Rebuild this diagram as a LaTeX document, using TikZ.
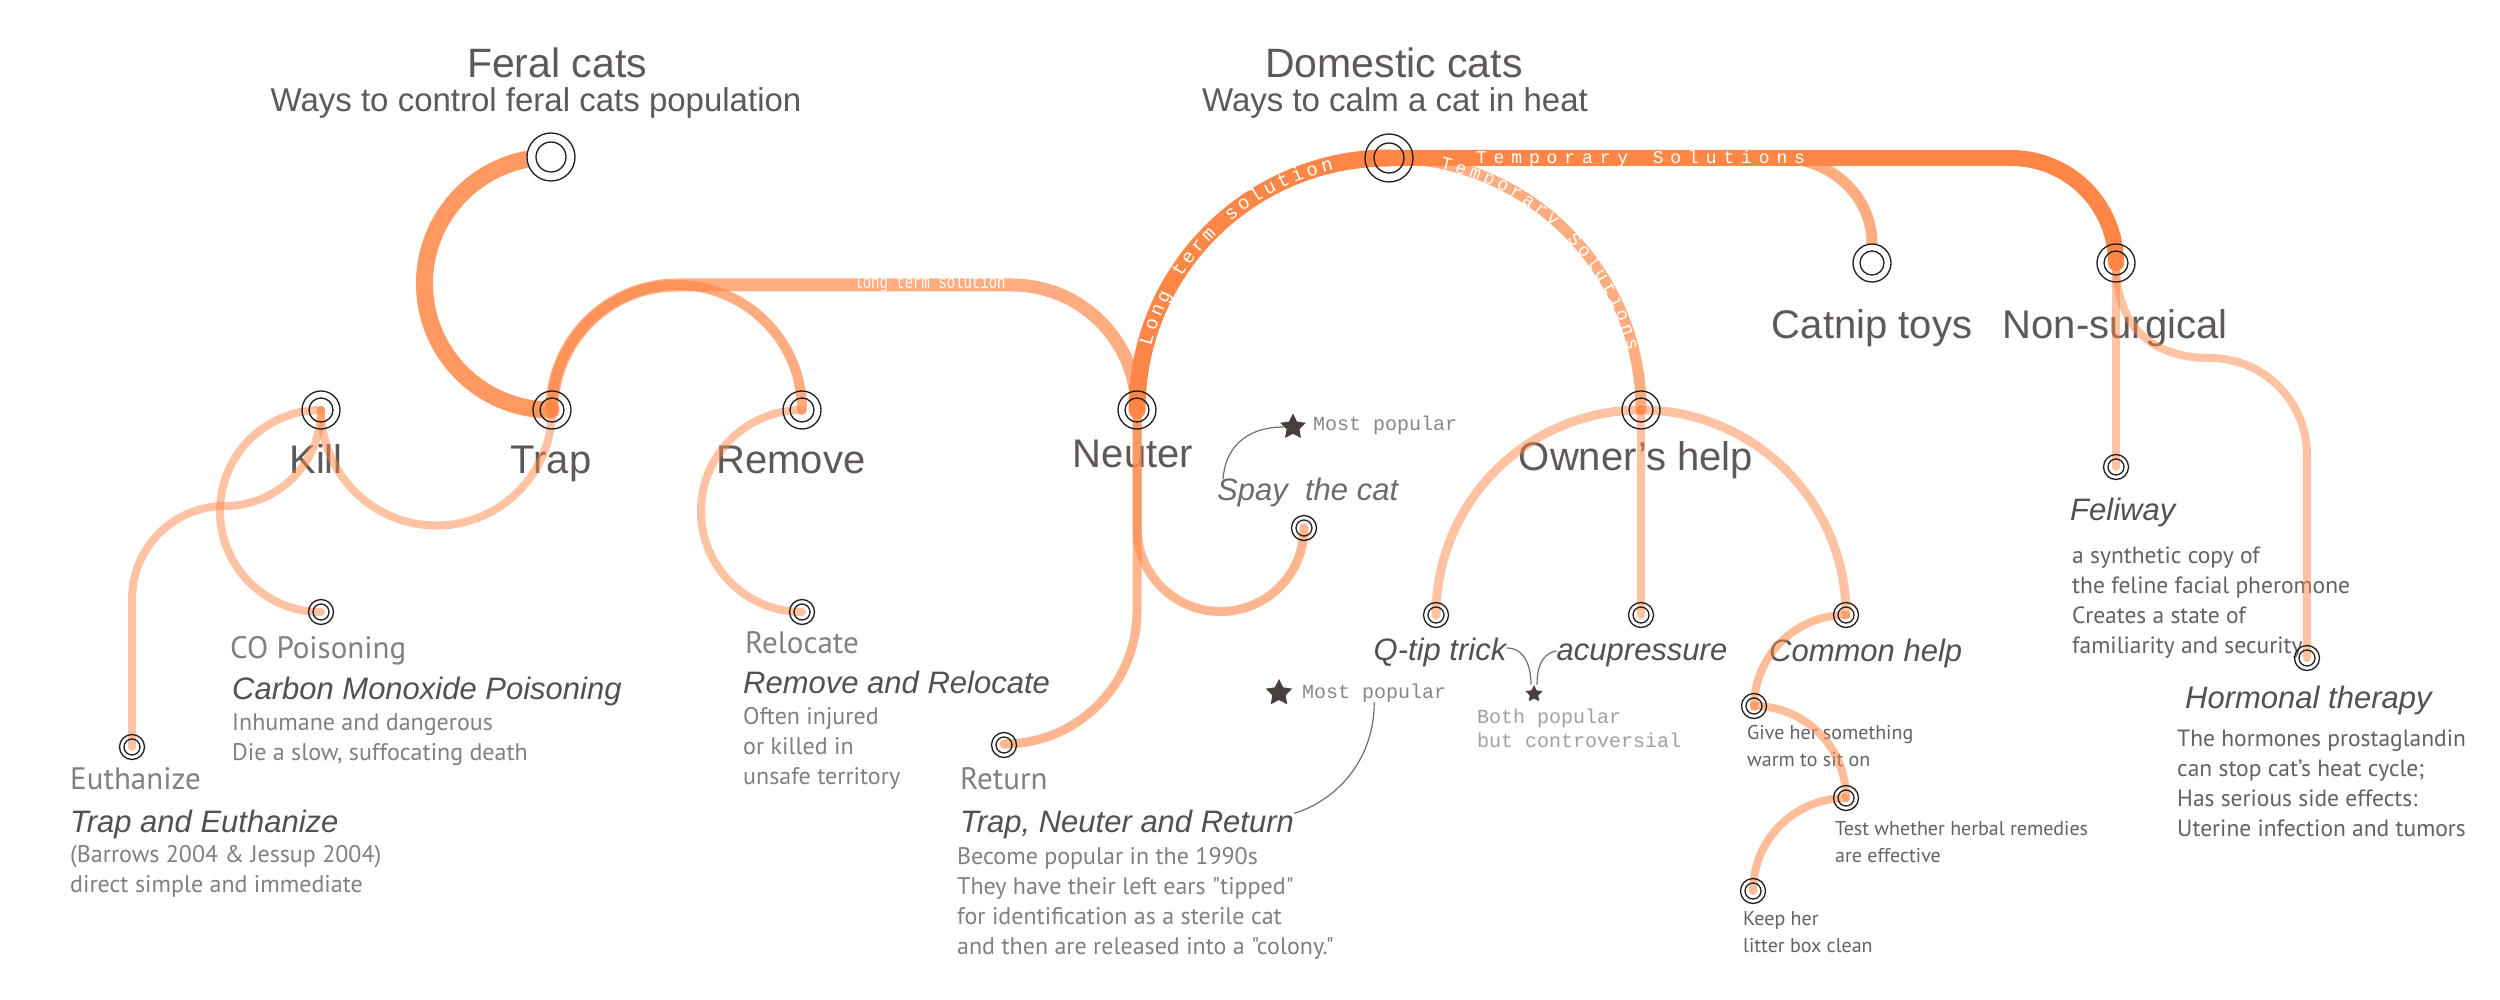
\documentclass[tikz,border=0pt]{standalone}
\usepackage{fontspec}
\setmainfont{Liberation Sans}
\newfontfamily\myr{PT Sans}
\newfontfamily\mono{Liberation Mono}
\usetikzlibrary{decorations.text,shapes.geometric}
\definecolor{org}{RGB}{255,134,70}
\definecolor{ttl}{RGB}{94,88,86}
\definecolor{itl}{RGB}{82,80,80}
\definecolor{spc}{RGB}{108,108,108}
\definecolor{dsc}{RGB}{128,128,128}
\definecolor{dsc2}{RGB}{98,98,98}
\definecolor{mgr}{RGB}{135,135,135}
\definecolor{mgr2}{RGB}{160,160,160}
\definecolor{stc}{RGB}{72,62,62}
\definecolor{ringc}{RGB}{30,30,30}
\definecolor{gln}{RGB}{110,110,110}
\newcommand{\fs}[2]{\fontsize{#1}{#2}\selectfont}
\tikzset{
  stnbig/.style={circle,inner sep=0pt,minimum size=48pt},
  stnmid/.style={circle,inner sep=0pt,minimum size=38pt},
  stnsml/.style={circle,inner sep=0pt,minimum size=26pt},
  ttlT/.style={text=ttl,font=\fs{41}{41},inner sep=0pt,anchor=base},
  subT/.style={text=ttl,font=\fs{33}{33},inner sep=0pt,anchor=base},
  stnT/.style={text=ttl,font=\fs{40}{40},inner sep=0pt,anchor=base},
  itT/.style={text=itl,font=\itshape\fs{31}{31},inner sep=0pt,anchor=base west},
  medT/.style={text=dsc,font=\myr\fs{31}{31},inner sep=0pt,anchor=base west},
  dscT/.style={text=dsc,font=\myr\fs{24}{30},inner sep=0pt,anchor=base west,align=left},
  dsctwo/.style={text=dsc2,font=\myr\fs{23.5}{30},inner sep=0pt,anchor=base west,align=left},
  smlT/.style={text=dsc2,font=\myr\fs{20}{27},inner sep=0pt,anchor=base west,align=left},
  monoT/.style={text=mgr,font=\mono\fs{20}{24},inner sep=0pt,anchor=base west,align=left},
  strongln/.style={draw=org,line width=17pt,line cap=round},
  medln/.style={draw=org,opacity=0.68,line cap=round},
  lightln/.style={draw=org,opacity=0.5,line width=8pt,line cap=round},
  ring/.style={draw=ringc,line width=1.3pt},
  starn/.style={star,star points=5,star point ratio=2.0,fill=stc,inner sep=0pt,minimum size=#1},
  gline/.style={draw=gln,line width=1.2pt},
  lbl/.style={decoration={text along path,text align=fit to path,text color=white,raise=-5.5pt,text={#1}},decorate},
}
\begin{document}
\begin{tikzpicture}[x=1pt,y=1pt]
\fill[white] (0,0) rectangle (2500,-1000);
\useasboundingbox (0,0) rectangle (2500,-1000);

% stations
\node[stnbig] (feral) at (551,-157) {};
\node[stnbig] (dom) at (1389,-158) {};
\node[stnmid] (kill) at (321,-410) {};
\node[stnmid] (trap) at (552,-410) {};
\node[stnmid] (remove) at (802,-410) {};
\node[stnmid] (neuter) at (1137,-410) {};
\node[stnmid] (owner) at (1641,-410) {};
\node[stnmid] (catnip) at (1872,-263) {};
\node[stnmid] (nonsurg) at (2116,-263) {};
\node[stnsml] (co) at (321,-612) {};
\node[stnsml] (reloc) at (802,-612) {};
\node[stnsml] (euth) at (132,-747) {};
\node[stnsml] (spay) at (1304,-528) {};
\node[stnsml] (ret) at (1004,-745) {};
\node[stnsml] (qtip) at (1436,-615) {};
\node[stnsml] (acu) at (1641,-615) {};
\node[stnsml] (common) at (1846,-615) {};
\node[stnsml] (give) at (1754,-706) {};
\node[stnsml] (test) at (1846,-798) {};
\node[stnsml] (keep) at (1753,-891) {};
\node[stnsml] (feli) at (2116,-467) {};
\node[stnsml] (horm) at (2307,-658) {};
\coordinate (cbr) at (1780,-158);

% titles
\node[ttlT] (feralT) at (557,-78) {Feral cats};
\node[subT] (feralS) at (536,-112) {Ways to control feral cats population};
\node[ttlT] (domT) at (1394,-78) {Domestic cats};
\node[subT] (domS) at (1395,-112) {Ways to calm a cat in heat};

% station labels
\node[stnT] (killT) at (316,-473) {Kill};
\node[stnT] (trapT) at (551,-473) {Trap};
\node[stnT] (removeT) at (791,-473) {Remove};
\node[stnT] (neuterT) at (1133,-467) {Neuter};
\node[stnT] (ownerT) at (1636,-470) {Owner’s help};
\node[stnT] (catnipT) at (1872,-338) {Catnip toys};
\node[stnT] (nonsurgT) at (2115,-338) {Non-surgical};

% italic labels
\node[itT,text=spc] (spayT) at (1217,-500) {Spay~ the cat};
\node[itT,anchor=base] (qtipT) at (1440,-660) {Q-tip trick};
\node[itT,anchor=base] (acuT) at (1642,-660) {acupressure};
\node[itT] (commonT) at (1769,-661) {Common help};
\node[itT] (feliT) at (2070,-520) {Feliway};
\node[itT] (hormT) at (2185,-708) {Hormonal therapy};
\node[itT] (coT) at (232,-699) {Carbon Monoxide Poisoning};
\node[itT] (relocT) at (743,-693) {Remove and Relocate};
\node[itT] (euthT) at (70,-832) {Trap and Euthanize};
\node[itT] (retT) at (960,-832) {Trap, Neuter and Return};

% medium labels
\node[medT] (coM) at (230,-658) {CO Poisoning};
\node[medT] (relocM) at (745,-653) {Relocate};
\node[medT] (euthM) at (70,-789) {Euthanize};
\node[medT] (retM) at (960,-789) {Return};

% descriptions (anchor = baseline of last line)
\node[dscT] (coD) at (232,-760) {Inhumane and dangerous\\Die a slow, suffocating death};
\node[dscT] (euthD) at (70,-892) {(Barrows 2004 \& Jessup 2004)\\direct simple and immediate};
\node[dscT] (relocD) at (743,-784) {Often injured\\or killed in\\unsafe territory};
\node[dscT] (retD) at (957,-954) {Become popular in the 1990s\\They have their left ears "tipped"\\for identification as a sterile cat\\and then are released into a "colony."};
\node[dsctwo] (feliD) at (2072,-653) {a synthetic copy of\\the feline facial pheromone\\Creates a state of\\familiarity and security};
\node[dsctwo] (hormD) at (2177,-836) {The hormones prostaglandin\\can stop cat’s heat cycle;\\Has serious side effects:\\Uterine infection and tumors};
\node[smlT] (giveD) at (1747,-766) {Give her something\\warm to sit on};
\node[smlT] (testD) at (1835,-862) {Test whether herbal remedies\\are effective};
\node[smlT] (keepD) at (1743,-952) {Keep her\\litter box clean};

% mono notes
\node[monoT] (mp1) at (1313,-430) {Most popular};
\node[monoT] (mp2) at (1302,-698) {Most popular};
\node[monoT,text=mgr2] (both) at (1477,-747) {Both popular\\but controversial};

% feral lines
\draw[strongln,opacity=.85] (feral.center) arc[start angle=90,end angle=270,radius=126.5];
\draw[medln,line width=10pt] (trap.center) arc[start angle=180,end angle=0,radius=125];
\draw[medln,line width=13pt] (trap.center) arc[start angle=180,end angle=90,radius=125] -- ++(335,0) arc[start angle=90,end angle=0,radius=125];
\draw[lightln] (trap.center) arc[start angle=0,end angle=-180,radius=115.5];
\draw[lightln] (kill.center) arc[start angle=90,end angle=270,radius=101];
\draw[lightln] (kill.center) arc[start angle=0,end angle=-90,radius=96] arc[start angle=90,end angle=180,radius=93] -- (euth.center);
\draw[lightln] (remove.center) arc[start angle=90,end angle=270,radius=101];

% domestic lines
\draw[medln,line width=11pt] (dom.center) arc[start angle=90,end angle=0,radius=252];
\draw[strongln] (dom.center) arc[start angle=90,end angle=180,radius=252];
\draw[medln,line width=11pt] (cbr) .. controls (1831,-158) and (1872,-196) .. (catnip.north);
\draw[strongln,line width=16pt] (dom.center) -- (2011,-158) arc[start angle=90,end angle=0,radius=105];

\draw[lightln,opacity=.6,line width=9pt] (neuter.center) -- ++(0,-118) arc[start angle=180,end angle=360,radius=83.5];
\draw[lightln,opacity=.6,line width=9pt] (neuter.center) -- ++(0,-201) arc[start angle=0,end angle=-90,radius=133];

\draw[lightln,line width=9pt] (owner.center) arc[start angle=90,end angle=180,radius=205];
\draw[lightln,line width=9pt] (owner.center) arc[start angle=90,end angle=0,radius=205];
\draw[lightln] (owner.center) -- (acu.center);

\draw[lightln,opacity=.55] (common.center) arc[start angle=90,end angle=180,radius=92];
\draw[lightln,opacity=.55] (give.center) arc[start angle=90,end angle=0,radius=92];
\draw[lightln,opacity=.55] (test.center) arc[start angle=90,end angle=180,radius=93];

\draw[lightln] (nonsurg.center) -- (feli.center);
\draw[lightln] (nonsurg.center) .. controls (2116,-325) and (2150,-358) .. (2210,-358) arc[start angle=90,end angle=0,radius=97] -- (horm.center);

% line labels
\path[lbl={|\mono\fs{19}{19}|Long term solution}] (1145.6,-344.8) arc[start angle=165,end angle=103,radius=252];
\path[lbl={|\mono\fs{18}{18}|Temporary Solutions}] (1441.4,-163.5) arc[start angle=78,end angle=14,radius=252];
\path[lbl={|\mono\fs{18}{18}|Temporary Solutions}] (1476,-158) -- (1805,-158);
\node[text=white,font=\mono\fs{14}{14},inner sep=0pt] (ltlbl) at (930,-284) {\scalebox{1}[1.35]{long term solution}};

% rings
\foreach \n in {kill,trap,remove,neuter,owner,nonsurg} {
  \draw[ring] (\n.center) circle[radius=19];
  \draw[ring] (\n.center) circle[radius=12];
}
\draw[ring,fill=white] (catnip.center) circle[radius=19];
\draw[ring] (catnip.center) circle[radius=12];
\draw[ring,fill=white] (feral.center) circle[radius=24];
\draw[ring] (feral.center) circle[radius=15];
\draw[ring] (dom.center) circle[radius=24];
\draw[ring] (dom.center) circle[radius=15];
\foreach \n in {co,reloc,euth,spay,ret,qtip,acu,common,give,test,keep,feli,horm} {
  \draw[ring] (\n.center) circle[radius=12.5];
  \draw[ring] (\n.center) circle[radius=8];
}

% stars and pointers
\node[starn=27pt] (star1) at (1293,-427) {};
\node[starn=28pt] (star2) at (1279,-693) {};
\node[starn=18pt] (star3) at (1534,-694) {};
\draw[gline] (star1.west) .. controls +(-40,0) and +(2,30) .. ([xshift=6pt,yshift=-2pt]spayT.north west);
\draw[gline] (mp2.south) .. controls +(0,-60) and +(40,12) .. ([yshift=-4pt]retT.north east);
\draw[gline] ([yshift=4pt]qtipT.east) .. controls +(20,0) and +(0,15) .. ([xshift=-3pt]star3.north);
\draw[gline] ([yshift=4pt]acuT.west) .. controls +(-16,-3) and +(0,15) .. ([xshift=3pt]star3.north);
\end{tikzpicture}
\end{document}
